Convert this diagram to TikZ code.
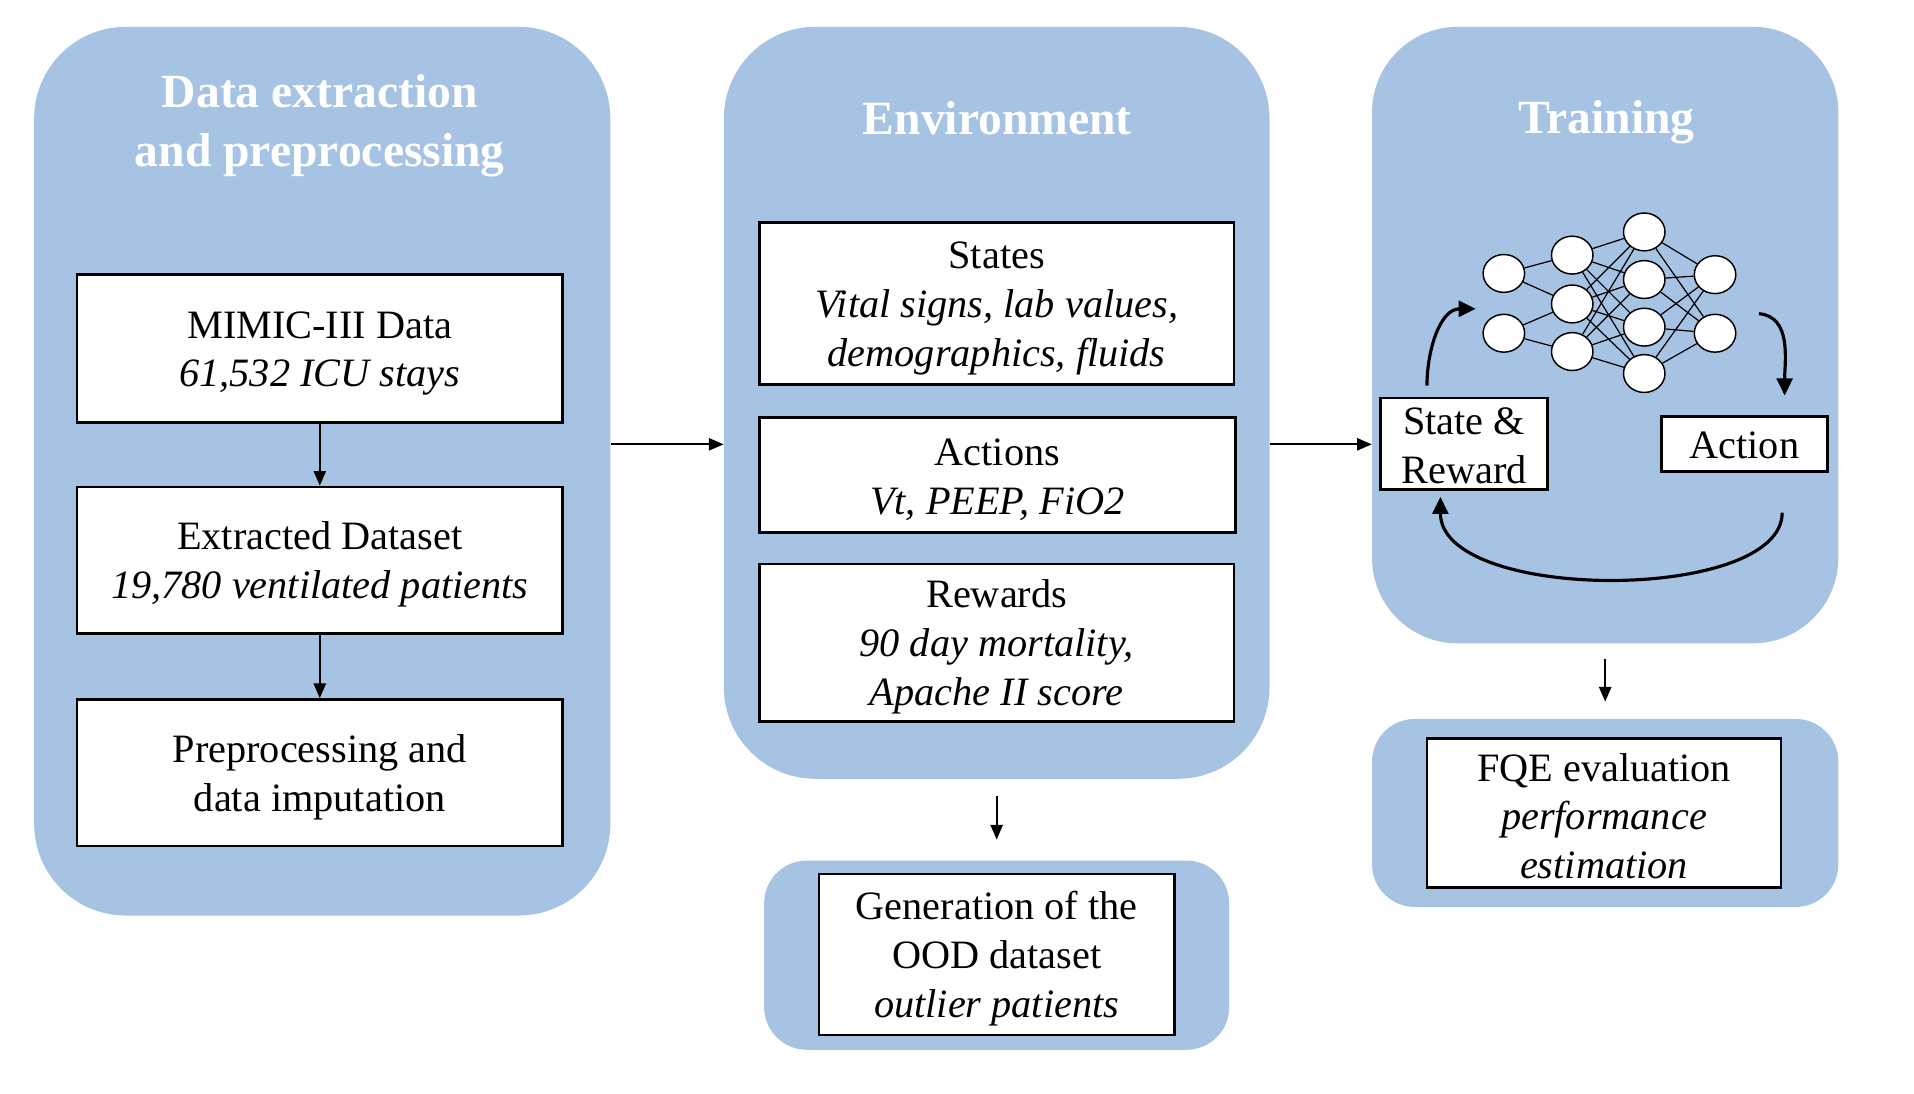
\documentclass[tikz,border=0pt]{standalone}
\usepackage{fontspec}
\setmainfont{Liberation Serif}
\usetikzlibrary{shapes.geometric,arrows.meta}
\definecolor{panelblue}{HTML}{A7C3E3}
\newcommand{\topstrut}{\rule{0pt}{30pt}}
\begin{document}
\begin{tikzpicture}[x=1pt,y=-1pt,
 panel/.style={fill=panelblue,draw=none,inner sep=0pt},
 ptitle/.style={text=white,font=\fontsize{39}{48}\selectfont\bfseries,align=center},
 wbox/.style={draw=black,line width=2.2pt,fill=white,align=center,font=\fontsize{33}{40}\selectfont,inner sep=0pt},
 arr/.style={-{Triangle[length=12pt,width=10pt]},line width=1.4pt},
 carr/.style={-{Triangle[length=14pt,width=13pt]},line width=2.6pt},
 neuron/.style={ellipse,draw,fill=white,line width=1.2pt,minimum width=34pt,minimum height=31pt,inner sep=0pt},
 nnlink/.style={line width=1pt}
]
\useasboundingbox (0,0) rectangle (1568,896);
\fill[white] (0,0) rectangle (1568,896);

% panels
\node[panel,rounded corners=75pt,minimum width=472pt,minimum height=728pt] (p1) at (264,386) {};
\node[panel,rounded corners=75pt,minimum width=447pt,minimum height=616pt] (p2) at (816.5,330) {};
\node[panel,rounded corners=70pt,minimum width=382pt,minimum height=505pt] (p3) at (1315,274.5) {};
\node[panel,rounded corners=35pt,minimum width=381pt,minimum height=155pt] (p4) at (816.5,782.5) {};
\node[panel,rounded corners=35pt,minimum width=382pt,minimum height=154pt] (p5) at (1315,666) {};

% titles
\node[ptitle] (t1) at (262,103) {Data extraction\\and preprocessing};
\node[ptitle] (t2) at (817,97) {Environment};
\node[ptitle] (t3) at (1316,100) {Training};

% left boxes
\node[wbox,minimum width=398pt,minimum height=121pt] (mimic) at (262,285.5) {\topstrut MIMIC-III Data\\\textit{61,532 ICU stays}};
\node[wbox,minimum width=398pt,minimum height=120pt] (extr) at (262,459) {\topstrut Extracted Dataset\\\textit{19,780 ventilated patients}};
\node[wbox,minimum width=398pt,minimum height=120pt] (prep) at (262,633) {\topstrut Preprocessing and\\data imputation};

% environment boxes
\node[wbox,minimum width=389pt,minimum height=133pt] (states) at (816.5,248.5) {\topstrut States\\\textit{Vital signs, lab values,}\\\textit{demographics, fluids}};
\node[wbox,minimum width=390pt,minimum height=94pt] (actions) at (817,389) {\topstrut Actions\\\textit{Vt, PEEP, FiO2}};
\node[wbox,minimum width=389pt,minimum height=129pt] (rewards) at (816.5,526.5) {\topstrut Rewards\\\textit{90 day mortality,}\\\textit{Apache II score}};
\node[wbox,minimum width=291pt,minimum height=132pt] (ood) at (816.5,782) {\topstrut Generation of the\\OOD dataset\\\textit{outlier patients}};

% training boxes
\node[wbox,minimum width=137pt,minimum height=75pt] (sr) at (1199.5,363.5) {\rule{0pt}{25pt}State \&\\Reward};
\node[wbox,minimum width=136pt,minimum height=45pt] (act) at (1429,363.5) {\rule{0pt}{25pt}Action};
\node[wbox,minimum width=290pt,minimum height=122pt] (fqe) at (1314,666) {\rule{0pt}{28pt}FQE evaluation\\\textit{performance}\\\textit{estimation}};

% neural network
\node[neuron] (a1) at (1232,224) {};
\node[neuron] (a2) at (1232,273) {};
\node[neuron] (b1) at (1288,209) {};
\node[neuron] (b2) at (1288,249) {};
\node[neuron] (b3) at (1288,288) {};
\node[neuron] (c1) at (1347,190) {};
\node[neuron] (c2) at (1347,229) {};
\node[neuron] (c3) at (1347,268) {};
\node[neuron] (c4) at (1347,306) {};
\node[neuron] (d1) at (1405,225) {};
\node[neuron] (d2) at (1405,273) {};
\draw[nnlink] (a1) -- (b1); \draw[nnlink] (a1) -- (b2);
\draw[nnlink] (a2) -- (b2); \draw[nnlink] (a2) -- (b3);
\foreach \i in {b1,b2,b3}{\foreach \j in {c1,c2,c3,c4}{\draw[nnlink] (\i) -- (\j);}}
\foreach \i in {c1,c2,c3,c4}{\foreach \j in {d1,d2}{\draw[nnlink] (\i) -- (\j);}}

% straight arrows
\coordinate (y364) at (0,364);
\draw[arr] (mimic) -- (extr);
\draw[arr] (extr) -- (prep);
\draw[arr] (p1.east |- y364) -- (p2.west |- y364);
\draw[arr] (p2.east |- y364) -- (p3.west |- y364);
\draw[arr] ([yshift=-14pt]p2.south) -- ([yshift=17pt]p4.north);
\draw[arr] ([yshift=-13pt]p3.south) -- ([yshift=14pt]p5.north);

% curved arrows
\coordinate (c1s) at (1169,316);
\coordinate (c1e) at (1209,253);
\coordinate (c2s) at (1441,257);
\coordinate (c2e) at (1462,324);
\coordinate (c3s) at (1460,420);
\coordinate (c3e) at (1180,407);
\draw[carr] (c1s) to[out=90,in=180] (c1e);
\draw[carr] (c2s) to[out=-5,in=90] (c2e);
\draw[carr] (c3s) .. controls (1460,494) and (1180,494) .. (c3e);
\end{tikzpicture}
\end{document}
